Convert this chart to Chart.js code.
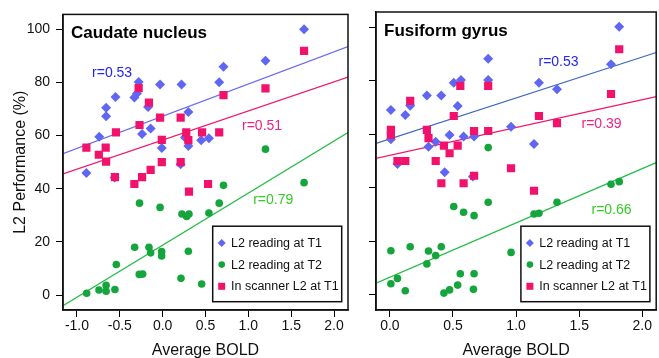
<!DOCTYPE html>
<html>
<head>
<meta charset="utf-8">
<script src="https://cdn.jsdelivr.net/npm/chart.js@4"></script>
<style>
html, body { margin: 0; padding: 0; background: #fff; overflow: hidden; width: 659px; height: 358px; }
canvas { position: absolute; top: 0; }
#caudate { left: 0; }
#fusiform { left: 362px; }
</style>
</head>
<body>
<canvas id="caudate" width="362" height="360"></canvas>
<canvas id="fusiform" width="300" height="360"></canvas>
<script>
// ---- data ----
var yTicks = [0, 20, 40, 60, 80, 100];
var caudateXTicks = [-1.0, -0.5, 0.0, 0.5, 1.0, 1.5, 2.0];
var fusiformXTicks = [0.0, 0.5, 1.0, 1.5, 2.0];
var seriesNames = ['L2 reading at T1', 'L2 reading at T2', 'In scanner L2 at T1'];

// Caudate nucleus
var cT1x = [1.65, 1.20, 0.71, 0.66, 0.22, -0.03, -0.28, -0.55, -0.33, -0.30, -0.66, -0.66, -0.17, 0.30, -0.14, -0.24, -0.74, 0.45, 0.54, 0.26, -0.01, 0.30, -0.89, -0.56, 0.21];
var cT1y = [100, 88.2, 85.9, 80.1, 79.2, 79.2, 80.2, 74.5, 74.3, 75.8, 70.5, 67.3, 70.8, 68.9, 62.7, 60.6, 59.6, 58.3, 59.0, 59.3, 55.3, 56.1, 45.9, 44.2, 49.2];
var cT2x = [1.65, 0.71, -0.27, 0.66, -0.03, 0.225, 0.307, 0.28, 0.54, -0.327, -0.16, -0.14, -0.012, -0.012, 0.30, -0.541, -0.273, -0.233, 0.214, 0.455, -0.887, -0.743, -0.66, -0.66, -0.557, 1.20];
var cT2y = [42.3, 41.3, 34.6, 34.6, 33.0, 30.5, 30.5, 29.6, 30.9, 18.0, 18.0, 15.9, 16.4, 14.7, 16.5, 11.5, 7.8, 7.9, 6.3, 4.2, 0.7, 1.9, 3.7, 1.5, 2.1, 54.9];
var cScanx = [1.65, 1.20, 0.71, -0.28, -0.16, -0.03, 0.21, -0.27, -0.545, 0.275, 0.46, 0.66, 0.30, -0.01, -0.89, -0.665, -0.745, -0.66, -0.01, 0.21, -0.14, -0.557, -0.24, -0.33, 0.307, 0.53];
var cScany = [91.9, 77.8, 75.2, 77.9, 72.4, 66.8, 66.8, 64.0, 61.2, 61.2, 61.2, 61.2, 58.3, 58.4, 55.5, 55.5, 52.8, 50.2, 50.0, 50.0, 47.1, 44.4, 44.4, 41.8, 38.9, 41.8];
var cFitX = [-1.163, 2.163];
var cFitT1 = [53.2, 93.5];
var cFitT2 = [-4.0, 61.2];
var cFitScan = [45.6, 82.0];

// Fusiform gyrus
var fT1x = [1.817, 1.752, 1.324, 1.181, 0.779, 0.779, 0.563, 0.506, 0.293, 0.407, 0.161, 0.008, 0.122, 0.537, 0.008, 0.306, 0.363, 0.473, 0.584, 0.667, 0.96, 1.142, 0.06, 0.434, 0.657];
var fT1y = [100.1, 86.1, 76.8, 79.2, 88.2, 80.2, 80.2, 79.2, 74.4, 74.4, 70.6, 69.0, 67.2, 70.5, 58.1, 55.3, 57.2, 59.7, 59.1, 59.1, 62.8, 56.3, 48.9, 45.8, 44.2];
var fT2x = [1.817, 1.752, 1.324, 1.142, 1.181, 0.779, 0.506, 0.584, 0.667, 0.008, 0.161, 0.306, 0.407, 0.363, 0.293, 0.96, 0.06, 0.008, 0.122, 0.428, 0.473, 0.537, 0.662, 0.558, 0.667, 0.779];
var fT2y = [42.3, 41.3, 34.6, 30.2, 30.5, 34.6, 33.0, 30.9, 29.6, 16.5, 18.0, 16.4, 18.0, 14.7, 11.6, 15.9, 6.2, 4.2, 1.6, 0.7, 1.9, 3.7, 2.1, 7.9, 7.9, 55.0];
var fScanx = [1.817, 1.752, 1.324, 1.181, 0.779, 0.779, 0.558, 0.667, 0.506, 0.161, 0.008, 0.008, 0.293, 0.306, 0.428, 0.537, 0.473, 0.06, 0.122, 0.363, 0.96, 0.667, 0.408, 0.584, 1.142];
var fScany = [91.7, 75.0, 64.1, 66.8, 78.0, 61.2, 78.0, 61.2, 66.8, 72.4, 61.6, 59.7, 61.6, 58.5, 55.7, 55.7, 52.9, 50.0, 50.0, 50.0, 47.3, 44.5, 41.7, 41.7, 38.9];
var fFitX = [-0.11, 2.11];
var fFitT1 = [56.6, 90.5];
var fFitT2 = [4.4, 49.4];
var fFitScan = [51.0, 74.0];

// ---- styling ----
var FONT = '"Liberation Sans", Arial, Helvetica, sans-serif';
var BLUE = '#6066f4', GREEN = '#14a53c', PINK = '#f2126c';

function pts(xs, ys) {
	return xs.map(function (x, i) { return { x: x, y: ys[i] }; });
}

function drawMark(ctx, style, x, y, r) {
	ctx.beginPath();
	if (style == 'rectRot') {
		ctx.moveTo(x - r, y); ctx.lineTo(x, y - r); ctx.lineTo(x + r, y); ctx.lineTo(x, y + r);
		ctx.closePath();
	} else if (style == 'rect') {
		ctx.rect(x - r, y - r, 2 * r, 2 * r);
	} else {
		ctx.arc(x, y, r, 0, Math.PI * 2);
	}
	ctx.fill();
}

// title, r labels, frame and boxed legend
var panelText = {
	id: 'panelText',
	afterDatasetsDraw: function (chart, args, opts) {
		var ctx = chart.ctx, a = chart.chartArea, sx = chart.scales.x, sy = chart.scales.y;
		ctx.save();
		ctx.textBaseline = 'middle';
		ctx.fillStyle = '#000';
		ctx.font = 'bold 17px ' + FONT;
		ctx.textAlign = 'left';
		ctx.fillText(opts.title, a.left + 8, a.top + 19);

		ctx.font = '14px ' + FONT;
		ctx.textAlign = 'center';
		opts.notes.forEach(function (n) {
			ctx.fillStyle = n.color;
			ctx.fillText(n.text, sx.getPixelForValue(n.x), sy.getPixelForValue(n.y));
		});

		ctx.strokeStyle = '#111';
		ctx.lineWidth = 1.5;
		ctx.strokeRect(a.left, a.top, a.right - a.left, a.bottom - a.top);

		// legend
		var w = 129, h = 75.5;
		var lx = a.right - 6.3 - w, ly = a.bottom - 8.3 - h;
		ctx.fillStyle = '#fff';
		ctx.fillRect(lx, ly, w, h);
		ctx.strokeRect(lx, ly, w, h);
		var marks = [{ s: 'rectRot', r: 4 }, { s: 'circle', r: 3.3 }, { s: 'rect', r: 3.5 }];
		var sets = chart.data.datasets.filter(function (d) { return !d.fit; });
		ctx.font = '12.5px ' + FONT;
		ctx.textAlign = 'left';
		sets.forEach(function (d, i) {
			var ry = ly + 16.7 + i * 21.7;
			ctx.fillStyle = d.backgroundColor;
			drawMark(ctx, marks[i].s, lx + 9, ry, marks[i].r);
			ctx.fillStyle = '#111';
			ctx.fillText(d.label, lx + 18.3, ry + 0.5);
		});
		ctx.restore();
	}
};

function makePanel(id, o) {
	var datasets = [
		{ label: seriesNames[0], data: o.t1, pointStyle: 'rectRot', pointRadius: 5, backgroundColor: BLUE, borderWidth: 0, order: 3 },
		{ label: seriesNames[1], data: o.t2, pointStyle: 'circle', pointRadius: 3.8, backgroundColor: GREEN, borderWidth: 0, order: 2 },
		{ label: seriesNames[2], data: o.scan, pointStyle: 'rect', pointRadius: 5.8, backgroundColor: PINK, borderWidth: 0, order: 1 },
		{ fit: true, data: o.fitT1, showLine: true, pointRadius: 0, borderColor: o.blueLine, borderWidth: 1.2, order: 5 },
		{ fit: true, data: o.fitScan, showLine: true, pointRadius: 0, borderColor: '#f0186e', borderWidth: 1.2, order: 5 },
		{ fit: true, data: o.fitT2, showLine: true, pointRadius: 0, borderColor: '#22bb44', borderWidth: 1.2, order: 5 }
	];
	return new Chart(document.getElementById(id), {
		type: 'scatter',
		data: { datasets: datasets },
		plugins: [panelText],
		options: {
			responsive: false,
			animation: false,
			events: [],
			layout: { padding: { top: 12, right: o.padRight, left: 0, bottom: 0 } },
			plugins: {
				legend: { display: false },
				tooltip: { enabled: false },
				panelText: { title: o.title, notes: o.notes }
			},
			scales: {
				x: {
					type: 'linear',
					min: o.xMin, max: o.xMax,
					afterBuildTicks: function (s) { s.ticks = o.xTicks.map(function (v) { return { value: v }; }); },
					afterFit: function (s) { s.height = 50; },
					ticks: {
						autoSkip: false, maxRotation: 0, padding: 1, color: '#111',
						font: { family: FONT, size: 14 },
						callback: function (v) { return Number(v).toFixed(1); }
					},
					grid: { drawOnChartArea: false, drawTicks: true, tickLength: 7, color: '#000' },
					border: { display: true, color: '#111', width: 1.5 },
					title: { display: true, text: 'Average BOLD', color: '#111', font: { family: FONT, size: 16 }, padding: { top: 0, bottom: 0 } }
				},
				y: {
					type: 'linear',
					min: -5.6, max: 105.6,
					afterBuildTicks: function (s) { s.ticks = yTicks.map(function (v) { return { value: v }; }); },
					afterFit: function (s) { s.width = o.yWidth; },
					ticks: { display: o.yLabels, padding: 6, color: '#111', font: { family: FONT, size: 14 } },
					grid: { drawOnChartArea: false, drawTicks: true, tickLength: 7, color: '#000' },
					border: { display: true, color: '#111', width: 1.5 },
					title: { display: o.yLabels, text: 'L2 Performance (%)', color: '#111', font: { family: FONT, size: 16 }, padding: { top: 11, bottom: 0 } }
				}
			}
		}
	});
}

makePanel('caudate', {
	title: 'Caudate nucleus',
	t1: pts(cT1x, cT1y), t2: pts(cT2x, cT2y), scan: pts(cScanx, cScany),
	fitT1: pts(cFitX, cFitT1), fitT2: pts(cFitX, cFitT2), fitScan: pts(cFitX, cFitScan),
	blueLine: '#6b6bf2',
	xMin: -1.163, xMax: 2.163, xTicks: caudateXTicks,
	yWidth: 63, yLabels: true, padRight: 14,
	notes: [
		{ text: 'r=0.53', x: -0.59, y: 83.6, color: '#2424f8' },
		{ text: 'r=0.51', x: 1.16, y: 63.4, color: '#ee2282' },
		{ text: 'r=0.79', x: 1.29, y: 35.8, color: '#33cc22' }
	]
});

makePanel('fusiform', {
	title: 'Fusiform gyrus',
	t1: pts(fT1x, fT1y), t2: pts(fT2x, fT2y), scan: pts(fScanx, fScany),
	fitT1: pts(fFitX, fFitT1), fitT2: pts(fFitX, fFitT2), fitScan: pts(fFitX, fFitScan),
	blueLine: '#3b68c0',
	xMin: -0.11, xMax: 2.11, xTicks: fusiformXTicks,
	yWidth: 14, yLabels: false, padRight: 1,
	notes: [
		{ text: 'r=0.53', x: 1.336, y: 86.8, color: '#2424f8' },
		{ text: 'r=0.39', x: 1.677, y: 63.7, color: '#ee2282' },
		{ text: 'r=0.66', x: 1.756, y: 31.7, color: '#33cc22' }
	]
});
</script>
</body>
</html>
